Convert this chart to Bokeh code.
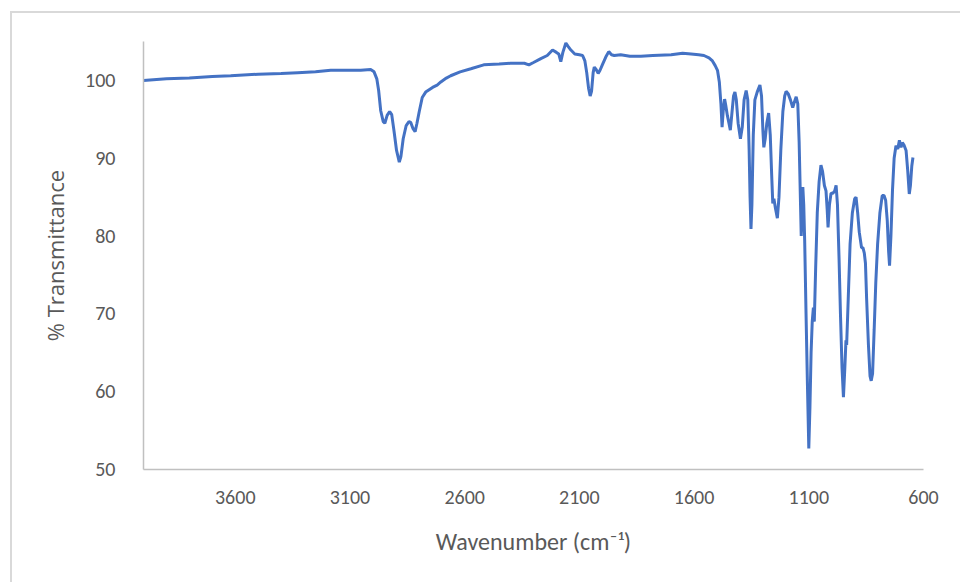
from bokeh.plotting import figure
from bokeh.models import Range1d, FixedTicker
from bokeh.embed import file_html
from bokeh.resources import INLINE

# Wavenumber (cm-1) (descending)
wavenumber = [
    4000, 3900, 3800, 3700, 3620, 3500, 3400, 3328, 3250, 3184, 3100, 3053, 3010,
    2995, 2983, 2975, 2966, 2955, 2948, 2938, 2927, 2918, 2908, 2897, 2885, 2878,
    2868, 2855, 2843, 2835, 2825, 2816, 2808, 2798, 2785, 2770, 2755, 2740, 2720,
    2704, 2680, 2661, 2620, 2573, 2517, 2450, 2400, 2340, 2320, 2300, 2268, 2240,
    2217, 2200, 2190, 2181, 2172, 2159, 2150, 2137, 2120, 2100, 2086, 2076, 2068,
    2060, 2053, 2047, 2040, 2035, 2027, 2018, 2010, 2000, 1985, 1972, 1960, 1948,
    1920, 1880, 1832, 1780, 1700, 1650, 1613, 1580, 1557, 1535, 1520, 1508, 1498,
    1490, 1483, 1478, 1472, 1467, 1462, 1455, 1448, 1442, 1436, 1428, 1422, 1416,
    1408, 1398, 1390, 1382, 1373, 1366, 1360, 1356, 1352, 1348, 1342, 1335, 1325,
    1313, 1306, 1300, 1296, 1290, 1283, 1275, 1268, 1262, 1257, 1252, 1245, 1237,
    1230, 1222, 1213, 1205, 1199, 1190, 1180, 1170, 1162, 1155, 1148, 1142, 1136,
    1133, 1129, 1126, 1122, 1118, 1112, 1106, 1100, 1095, 1090, 1085, 1080, 1076,
    1070, 1063, 1055, 1047, 1040, 1032, 1025, 1020, 1016, 1010, 1003, 995, 987,
    981, 975, 968, 962, 955, 949, 943, 938, 935, 928, 920, 910, 900, 894, 887,
    880, 870, 864, 858, 853, 848, 840, 833, 828, 822, 815, 808, 800, 790, 780,
    772, 765, 758, 752, 748, 742, 735, 728, 720, 712, 705, 698, 692, 685, 676,
    669, 662, 657, 651, 646,
]

# % Transmittance at each wavenumber
transmittance = [
    100.0, 100.2, 100.3, 100.5, 100.6, 100.8, 100.9, 101.0, 101.1, 101.3, 101.3, 101.3, 101.4,
    101.1, 100.2, 98.7, 96.1, 94.7, 94.5, 95.5, 96.0, 95.6, 93.5, 91.0, 89.5, 90.2,
    92.5, 94.2, 94.7, 94.6, 93.8, 93.4, 94.5, 96.0, 97.8, 98.5, 98.8, 99.1, 99.4,
    99.8, 100.3, 100.6, 101.1, 101.5, 102.0, 102.1, 102.2, 102.2, 102.0, 102.3, 102.8, 103.2,
    103.9, 103.6, 103.4, 102.4, 103.6, 104.8, 104.4, 103.9, 103.4, 103.3, 103.2, 102.5, 101.0,
    99.0, 98.0, 98.6, 101.0, 101.7, 101.4, 100.9, 101.3, 102.0, 103.0, 103.7, 103.3, 103.2,
    103.3, 103.1, 103.1, 103.2, 103.3, 103.5, 103.4, 103.3, 103.2, 102.9, 102.5, 101.9, 101.3,
    99.8, 97.0, 94.0, 96.5, 97.6, 96.8, 95.5, 94.5, 93.6, 95.5, 98.0, 98.5, 97.5,
    94.5, 92.5, 94.0, 97.5, 98.7, 97.5, 91.0, 85.0, 80.9, 84.0, 93.0, 97.5, 98.5,
    99.4, 98.0, 93.5, 91.4, 92.5, 94.5, 95.8, 93.0, 88.0, 84.2, 84.8, 83.5, 82.3,
    85.0, 91.0, 96.0, 98.0, 98.6, 98.3, 97.5, 96.5, 97.3, 97.9, 97.0, 92.0, 84.0,
    80.0, 83.0, 86.3, 84.0, 79.5, 70.0, 61.0, 52.7, 58.0, 65.0, 69.0, 70.8, 69.0,
    76.0, 83.0, 87.0, 89.1, 88.3, 86.5, 85.8, 83.5, 81.1, 84.0, 85.5, 85.5, 85.8,
    86.5, 84.0, 77.0, 70.0, 63.0, 59.3, 63.0, 66.6, 66.0, 72.0, 79.0, 83.0, 84.8, 85.0, 83.0,
    80.5, 78.5, 78.5, 77.8, 76.5, 72.0, 66.0, 62.0, 61.4, 62.3, 68.0, 74.0, 79.0, 83.0, 85.2,
    85.2, 84.6, 82.0, 78.0, 76.2, 80.0, 86.0, 90.0, 91.6, 91.2, 92.3, 91.4, 92.0, 91.7, 91.0,
    88.5, 85.4, 86.5, 89.0, 90.1,
]

x_ticks = [600, 1100, 1600, 2100, 2600, 3100, 3600]
y_ticks = [50, 60, 70, 80, 90, 100]

TICK_FONT = "Carlito, Lato"

p = figure(
    width=950, height=571,
    x_range=Range1d(4000, 600), y_range=Range1d(50, 105),
    output_backend="svg", toolbar_location=None,
    min_border_left=131, min_border_right=39, min_border_top=28, min_border_bottom=115,
)
p.margin = (11, 0, 0, 10)
p.styles = {"border-left": "2px solid #d9d9d9", "border-top": "2px solid #d9d9d9"}
p.outline_line_color = None
p.background_fill_color = "white"
p.border_fill_color = "white"
p.grid.visible = False

p.line(wavenumber, transmittance, line_color="#4472C4", line_width=3)

p.xaxis.ticker = FixedTicker(ticks=x_ticks)
p.yaxis.ticker = FixedTicker(ticks=y_ticks)

for ax in (p.xaxis[0], p.yaxis[0]):
    ax.axis_line_color = "#c0c0c0"
    ax.axis_line_width = 1.5
    ax.major_tick_line_color = None
    ax.minor_tick_line_color = None
    ax.major_label_text_color = "#595959"
    ax.major_label_text_font = TICK_FONT
    ax.major_label_text_font_size = "20px"
    ax.axis_label_text_color = "#595959"
    ax.axis_label_text_font_style = "normal"

p.xaxis.major_label_standoff = 15
p.yaxis.major_label_standoff = 22

p.xaxis.axis_label = "Wavenumber (cm\u207b\u00b9)"
p.xaxis.axis_label_text_font = TICK_FONT
p.xaxis.axis_label_text_font_size = "24px"
p.xaxis.axis_label_standoff = 20

p.yaxis.axis_label = "% Transmittance"
p.yaxis.axis_label_text_font = "Open Sans"
p.yaxis.axis_label_text_font_size = "22px"
p.yaxis.axis_label_standoff = 12

open("out.html", "w").write(file_html(p, INLINE))
